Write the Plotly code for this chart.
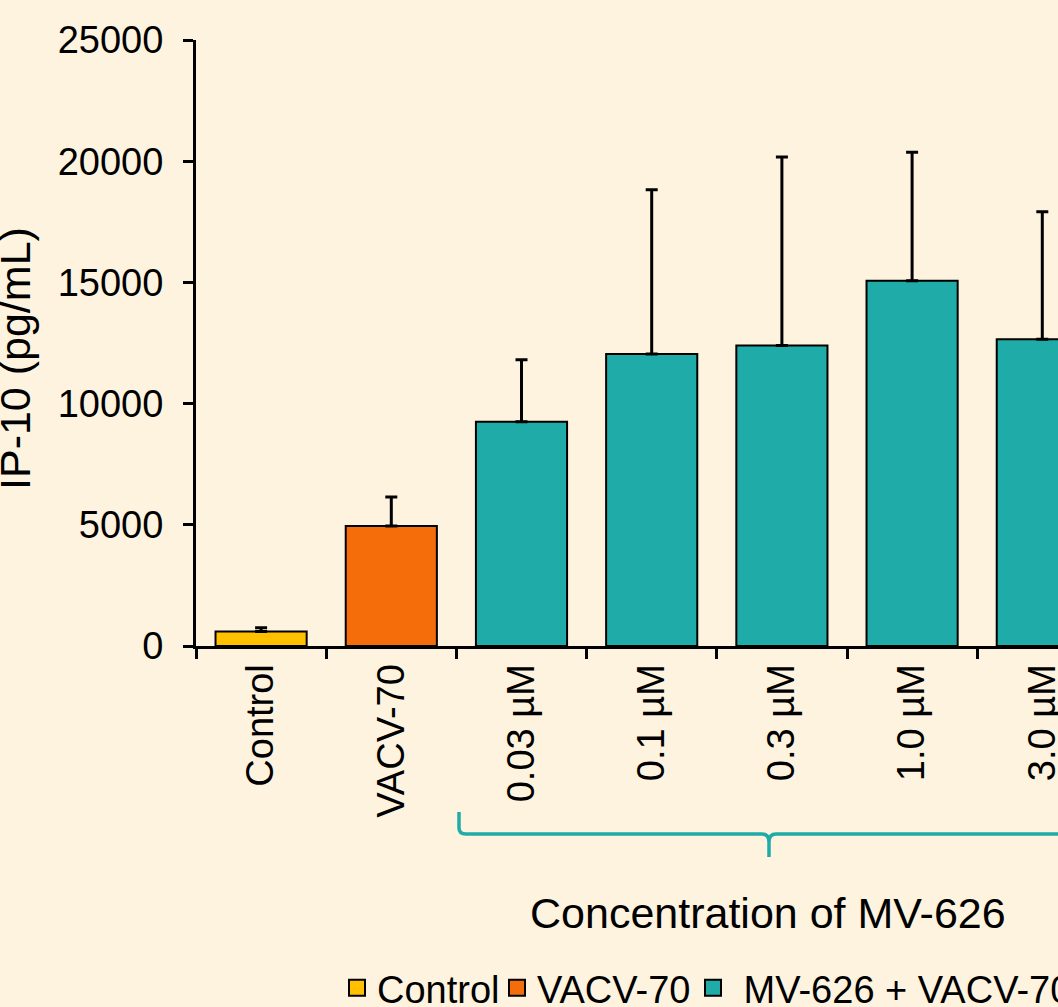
import plotly.graph_objects as go

# ---------------- data ----------------
categories = ["Control", "VACV-70", "0.03 µM", "0.1 µM", "0.3 µM", "1.0 µM", "3.0 µM"]
control_cat = ["Control"]
control_val = [600]
control_err = [150]

vacv_cat = ["VACV-70"]
vacv_val = [4950]
vacv_err = [1200]

mv_cat = ["0.03 µM", "0.1 µM", "0.3 µM", "1.0 µM", "3.0 µM"]
mv_val = [9250, 12050, 12400, 15070, 12650]
mv_err = [2560, 6770, 7770, 5300, 5260]

y_ticks = [0, 5000, 10000, 15000, 20000, 25000]

# ---------------- styling ----------------
BG = "#FEF3DF"
YELLOW = "#FFC000"
ORANGE = "#F46D0A"
TEAL = "#1FACA8"
FONT = "Liberation Sans, Arial, sans-serif"

W, H = 1058, 1007
L, T, B = 196, 40, 361
R = 0
PW = W - L - R
PH = H - T - B


def px(x):
    return (x - L) / PW


def py(y):
    return (T + PH - y) / PH


def bar(name, cats, vals, errs, color):
    return go.Bar(
        x=cats, y=vals, name=name, showlegend=False,
        marker=dict(color=color, line=dict(color="black", width=2)),
        width=0.7,
        error_y=dict(type="data", array=errs, arrayminus=[0] * len(errs),
                     symmetric=False, color="black", thickness=3, width=6),
    )


def legend_entry(name, color, legend):
    return go.Scatter(
        x=[None], y=[None], mode="markers", name=name, legend=legend, showlegend=True,
        marker=dict(symbol="square", size=16, color=color, line=dict(color="black", width=2)),
    )


fig = go.Figure()
fig.add_trace(bar("Control", control_cat, control_val, control_err, YELLOW))
fig.add_trace(bar("VACV-70", vacv_cat, vacv_val, vacv_err, ORANGE))
fig.add_trace(bar("MV-626 + VACV-70", mv_cat, mv_val, mv_err, TEAL))
fig.add_trace(legend_entry("Control", YELLOW, "legend"))
fig.add_trace(legend_entry("VACV-70", ORANGE, "legend2"))
fig.add_trace(legend_entry("\u00a0MV-626 + VACV-70", TEAL, "legend3"))

leg_common = dict(orientation="h", yanchor="middle", xanchor="left",
                  font=dict(family=FONT, size=38, color="black"),
                  bgcolor="rgba(0,0,0,0)", itemclick=False, visible=True,
                  itemsizing="trace")

fig.update_layout(
    width=W, height=H,
    paper_bgcolor=BG, plot_bgcolor=BG,
    showlegend=True,
    margin=dict(l=L, r=R, t=T, b=B, autoexpand=False),
    barmode="overlay",
    font=dict(family=FONT, size=38, color="black"),
    legend=dict(x=px(337), y=py(988), **leg_common),
    legend2=dict(x=px(497), y=py(988), **leg_common),
    legend3=dict(x=px(693), y=py(988), **leg_common),
    xaxis=dict(
        type="category", categoryorder="array", categoryarray=categories,
        range=[-0.5, -0.5 + PW / 130.2],
        showline=True, linecolor="black", linewidth=3,
        ticks="outside", tickson="boundaries", ticklen=10, tickwidth=3, tickcolor="black",
        tickangle=-90, tickfont=dict(family=FONT, size=38, color="black"),
        showgrid=False, zeroline=False,
    ),
    yaxis=dict(
        range=[0, 25000], tickvals=y_ticks, ticktext=[str(v) for v in y_ticks],
        showline=True, linecolor="black", linewidth=3,
        ticks="outside", ticklen=10, tickwidth=3, tickcolor="black",
        ticklabelstandoff=12,
        tickfont=dict(family=FONT, size=38, color="black"),
        showgrid=False, zeroline=False,
    ),
)

# y-axis title
fig.add_annotation(text="IP-10 (pg/mL)", xref="paper", yref="paper",
                   x=px(15), y=py(359), textangle=-90, showarrow=False,
                   xanchor="center", yanchor="middle",
                   font=dict(family=FONT, size=43, color="black"))

# x grouping title
fig.add_annotation(text="Concentration of MV-626", xref="paper", yref="paper",
                   x=px(768), y=py(913), showarrow=False,
                   xanchor="center", yanchor="middle",
                   font=dict(family=FONT, size=43, color="black"))

# curly bracket under MV-626 concentrations
pts = [
    ("M", 459, 812), ("L", 459, 828), ("Q", 459, 834, 466, 834), ("L", 762, 834),
    ("Q", 769, 834, 769, 842), ("L", 769, 857), ("M", 769, 842),
    ("Q", 769, 834, 776, 834), ("L", 1072, 834), ("Q", 1079, 834, 1079, 828), ("L", 1079, 812),
]
path = ""
for p in pts:
    cmd = p[0]
    coords = p[1:]
    parts = []
    for i in range(0, len(coords), 2):
        parts.append(f"{px(coords[i]):.5f},{py(coords[i+1]):.5f}")
    path += cmd + " ".join(parts) + " "
fig.add_shape(type="path", path=path.strip(), xref="paper", yref="paper",
              line=dict(color=TEAL, width=3.5))

fig.write_html("out.html")
